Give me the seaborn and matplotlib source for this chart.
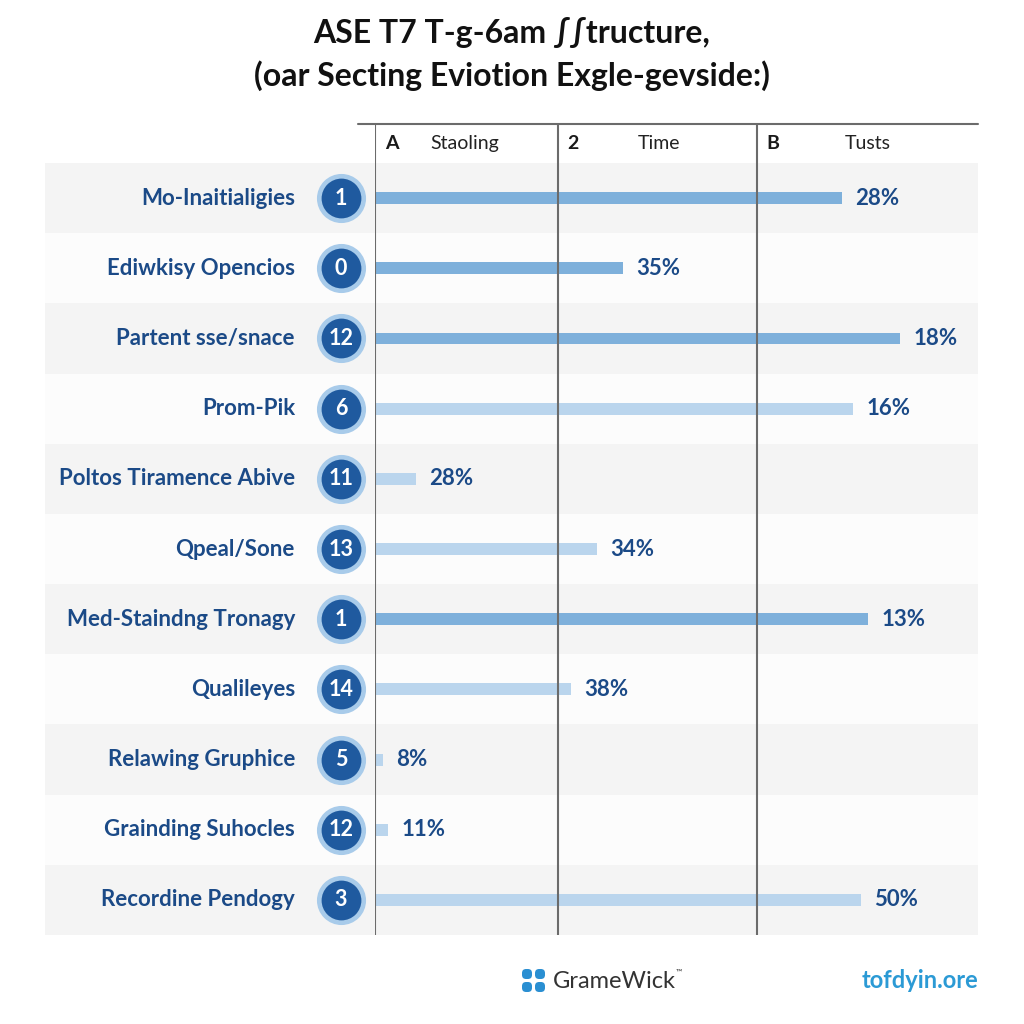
import matplotlib

matplotlib.use("Agg")
import matplotlib.pyplot as plt
import pandas as pd
import seaborn as sns
from matplotlib.patches import FancyBboxPatch
from matplotlib.transforms import blended_transform_factory

# ---- data ----
labels = [
    "Mo-Inaitialigies",
    "Ediwkisy Opencios",
    "Partent sse/snace",
    "Prom-Pik",
    "Poltos Tiramence Abive",
    "Qpeal/Sone",
    "Med-Staindng Tronagy",
    "Qualileyes",
    "Relawing Gruphice",
    "Grainding Suhocles",
    "Recordine Pendogy",
]
badges = [1, 0, 12, 6, 11, 13, 1, 14, 5, 12, 3]
bar_values = [77.4, 41.1, 87.1, 79.3, 6.8, 36.8, 81.8, 32.5, 1.3, 2.2, 80.6]
pct_labels = ["28%", "35%", "18%", "16%", "28%", "34%", "13%", "38%", "8%", "11%", "50%"]
tones = ["dark", "dark", "dark", "light", "light", "light", "dark", "light", "light", "light", "light"]

header_keys = ["A", "2", "B"]
header_names = ["Staoling", "Time", "Tusts"]
column_edges = [0, 30.3, 63.3]

title = "ASE T7 T-g-6am \u222b\u222btructure,\n(oar Secting Eviotion Exgle-gevside:)"

df = pd.DataFrame({"label": labels, "value": bar_values, "tone": tones})

sns.set_theme(style="white")
plt.rcParams["font.family"] = ["Lato", "DejaVu Sans"]

NAVY = "#1b4a87"
BADGE = "#1f5a9f"
RING = "#a8cbea"

fig = plt.figure(figsize=(10.24, 10.24), dpi=100)
fig.patch.set_facecolor("white")
ax = fig.add_axes([375 / 1024, 1 - 935 / 1024, 603 / 1024, 811 / 1024])
ax.set_facecolor("none")

# alternating row bands, reaching left under the labels
for i in range(len(labels)):
    color = "#f4f4f4" if i % 2 == 0 else "#fcfcfc"
    ax.axhspan(i - 0.5, i + 0.5, xmin=-0.547, xmax=1.0, color=color, zorder=0, clip_on=False, lw=0)

sns.barplot(
    data=df, x="value", y="label", hue="tone", orient="h",
    palette={"dark": "#7eb0db", "light": "#bad5ed"},
    width=0.17, legend=False, ax=ax, zorder=3, saturation=1, linewidth=0,
)

ax.set_xlim(0, 100)
ax.set_ylim(len(labels) - 0.5, -1.056)
for s in ax.spines.values():
    s.set_visible(False)
ax.set_xticks([])
ax.set_yticks([])
ax.set_xlabel("")
ax.set_ylabel("")

# column dividers and header rule
for xe in column_edges:
    ax.axvline(xe, color="#6b6b6b", lw=1.5, zorder=4)
ax.plot([-0.028, 1.0], [1.0, 1.0], transform=ax.transAxes, color="#6b6b6b", lw=1.5, clip_on=False)

# header row
hdr_y = -0.778
for xe, key, name, off in zip(column_edges, header_keys, header_names, [9.1, 13.3, 14.6]):
    ax.text(xe + 1.6, hdr_y, key, fontsize=14, fontweight="bold", color="#1a1a1a", va="center", ha="left")
    ax.text(xe + off, hdr_y, name, fontsize=14, color="#222222", va="center", ha="left")

# value labels
for i, (v, lab) in enumerate(zip(bar_values, pct_labels)):
    ax.text(v + 2.2, i, lab, fontsize=16, fontweight="bold", color=NAVY, va="center", ha="left", zorder=5)

# row labels and number badges on the left
trans = blended_transform_factory(ax.transAxes, ax.transData)
ys = list(range(len(labels)))
ax.scatter([-0.0564] * len(ys), ys, s=1250, color=RING, transform=trans, clip_on=False, zorder=5, lw=0)
ax.scatter([-0.0564] * len(ys), ys, s=820, color=BADGE, transform=trans, clip_on=False, zorder=6, lw=0)
for i, (lab, b) in enumerate(zip(labels, badges)):
    ax.text(-0.1327, i, lab, transform=trans, fontsize=16, fontweight="bold", color=NAVY,
            ha="right", va="center", clip_on=False)
    ax.text(-0.0564, i, str(b), transform=trans, fontsize=15.5, fontweight="bold", color="white",
            ha="center", va="center", clip_on=False, zorder=7)

# title
fig.text(0.5, 1 - 54 / 1024, title, ha="center", va="center", fontsize=23, fontweight="bold",
         color="#111111", linespacing=1.45)

# footer: logo squares, brand name and site
for dx, dy in [(0, 0), (13, 0), (0, 13), (13, 13)]:
    x0 = (522 + dx) / 1024
    y0 = 1 - (968 + dy + 11) / 1024
    fig.patches.append(FancyBboxPatch((x0, y0), 10 / 1024, 10 / 1024,
                                      boxstyle="round,pad=0,rounding_size=0.004",
                                      transform=fig.transFigure, color="#2a8fd2", lw=0))
fig.text(553 / 1024, 1 - 981 / 1024, "GrameWick", fontsize=17, color="#333333", ha="left", va="center")
fig.text(676 / 1024, 1 - 972 / 1024, "\u2122", fontsize=6, color="#333333", ha="left", va="center")
fig.text(978 / 1024, 1 - 981 / 1024, "tofdyin.ore", fontsize=17, fontweight="bold", color="#2b9ad5",
         ha="right", va="center")

fig.savefig("out.png", dpi=100, facecolor="white")
